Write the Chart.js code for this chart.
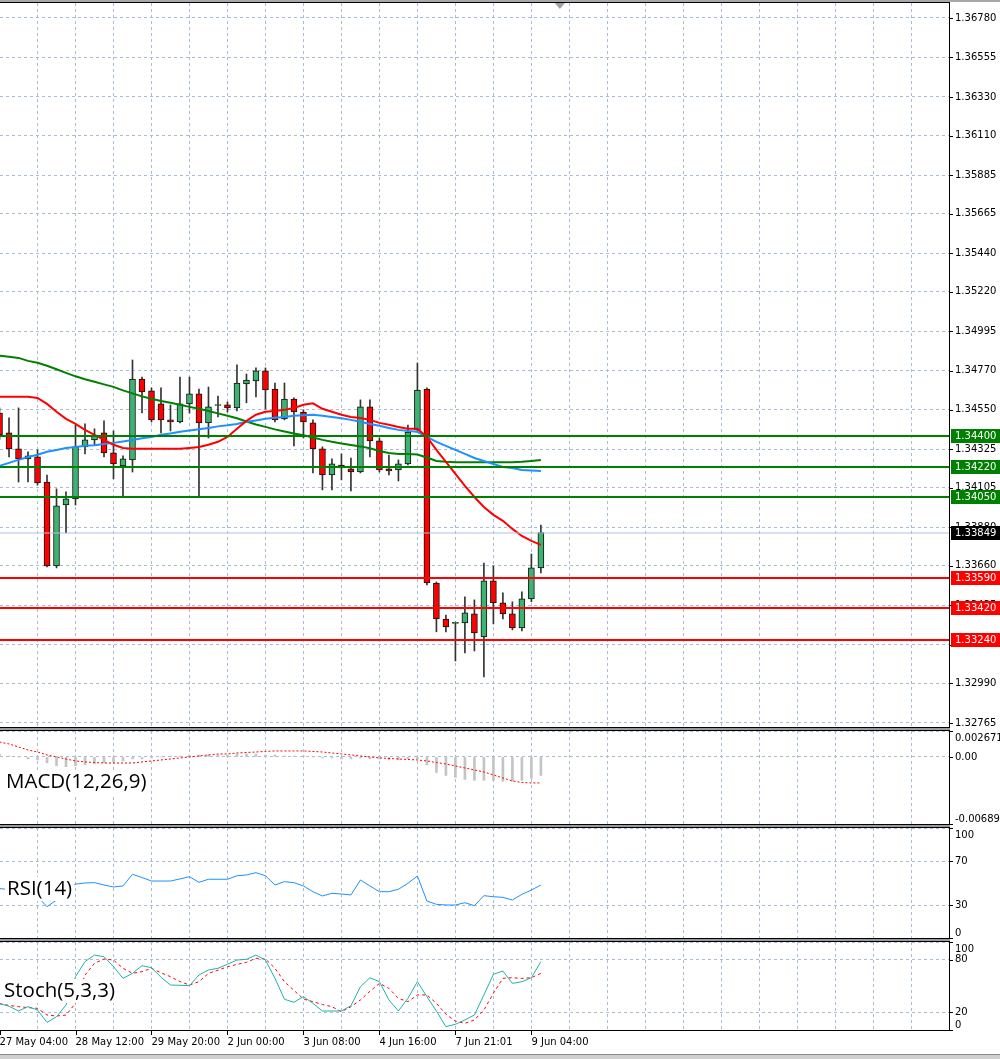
<!DOCTYPE html>
<html>
<head>
<meta charset="utf-8">
<title>H4 chart</title>
<script src="https://cdn.jsdelivr.net/npm/chart.js@4.4.1/dist/chart.umd.min.js"></script>
<style>
  html, body { margin: 0; padding: 0; background: #fff; }
  #wrap { position: relative; width: 1000px; height: 1059px; overflow: hidden; background: #fff; }
  #wrap canvas { position: absolute; left: 0; }
  .sep { position: absolute; left: 0; width: 950px; height: 2px; background: #9a9a9a; }
  #topbar { position: absolute; left: 0; top: 0; width: 1000px; height: 2px; background: #a8a8a8; }
  #bottombar { position: absolute; left: 0; top: 1054px; width: 1000px; height: 5px; background: #d0d0d0; border-top: 1px solid #8a8a8a; }
</style>
</head>
<body>
<div id="wrap">
  <div id="topbar"></div>
  <div class="sep" style="top:728px"></div>
  <div class="sep" style="top:825px"></div>
  <div class="sep" style="top:939px"></div>
  <div id="bottombar"></div>
  <canvas id="cMain" width="1000" height="730" style="top:0"></canvas>
  <canvas id="cMacd" width="1000" height="97" style="top:729px"></canvas>
  <canvas id="cRsi" width="1000" height="114" style="top:826px"></canvas>
  <canvas id="cStoch" width="1000" height="119" style="top:940px"></canvas>
</div>
<script>
// ---- candles (H4), oldest first ----
const opens  = [1.34530, 1.34417, 1.34326, 1.34269, 1.34280, 1.34137, 1.33659, 1.34006, 1.34041, 1.34337,
                1.34377, 1.34417, 1.34303, 1.34229, 1.34263, 1.34724, 1.34656, 1.34582, 1.34491, 1.34479,
                1.34582, 1.34639, 1.34474, 1.34573, 1.34576, 1.34559, 1.34696, 1.34713, 1.34770, 1.34667,
                1.34497, 1.34610, 1.34536, 1.34474, 1.34326, 1.34177, 1.34234, 1.34212, 1.34194, 1.34565,
                1.34371, 1.34212, 1.34206, 1.34240, 1.34434, 1.34667, 1.33562, 1.33357, 1.33332, 1.33335,
                1.33386, 1.33255, 1.33574, 1.33449, 1.33386, 1.33306, 1.33472, 1.33648];
const highs  = [1.34560, 1.34502, 1.34559, 1.34309, 1.34320, 1.34177, 1.34098, 1.34081, 1.34462, 1.34468,
                1.34440, 1.34485, 1.34428, 1.34286, 1.34832, 1.34735, 1.34673, 1.34673, 1.34576, 1.34735,
                1.34735, 1.34667, 1.34678, 1.34627, 1.34593, 1.34804, 1.34752, 1.34787, 1.34787, 1.34701,
                1.34701, 1.34616, 1.34548, 1.34491, 1.34337, 1.34269, 1.34297, 1.34274, 1.34605, 1.34605,
                1.34388, 1.34291, 1.34263, 1.34462, 1.34815, 1.34673, 1.33568, 1.33380, 1.33340, 1.33483,
                1.33466, 1.33676, 1.33659, 1.33506, 1.33455, 1.33512, 1.33727, 1.33892];
const lows   = [1.34380, 1.34280, 1.34137, 1.34137, 1.34120, 1.33653, 1.33648, 1.33847, 1.34006, 1.34297,
                1.34348, 1.34280, 1.34155, 1.34052, 1.34194, 1.34530, 1.34479, 1.34417, 1.34428, 1.34474,
                1.34530, 1.34052, 1.34388, 1.34508, 1.34536, 1.34542, 1.34588, 1.34622, 1.34553, 1.34479,
                1.34491, 1.34343, 1.34388, 1.34189, 1.34092, 1.34092, 1.34149, 1.34086, 1.34189, 1.34280,
                1.34194, 1.34177, 1.34143, 1.34234, 1.34428, 1.33551, 1.33284, 1.33284, 1.33118, 1.33164,
                1.33175, 1.33027, 1.33329, 1.33357, 1.33295, 1.33289, 1.33455, 1.33619];
const closes = [1.34405, 1.34326, 1.34269, 1.34286, 1.34132, 1.33659, 1.34001, 1.34041, 1.34337, 1.34377,
                1.34405, 1.34303, 1.34240, 1.34269, 1.34724, 1.34650, 1.34491, 1.34491, 1.34479, 1.34582,
                1.34639, 1.34474, 1.34565, 1.34576, 1.34559, 1.34701, 1.34718, 1.34770, 1.34661, 1.34491,
                1.34610, 1.34536, 1.34479, 1.34326, 1.34177, 1.34240, 1.34217, 1.34194, 1.34565, 1.34371,
                1.34206, 1.34200, 1.34240, 1.34422, 1.34661, 1.33562, 1.33357, 1.33312, 1.33335, 1.33392,
                1.33278, 1.33574, 1.33449, 1.33386, 1.33306, 1.33472, 1.33648, 1.33849];

// ---- moving averages ----
const maFast = [1.34622, 1.34622, 1.34622, 1.34622, 1.34616, 1.34582, 1.34537, 1.34497, 1.34468, 1.34434,
                1.34406, 1.34377, 1.34349, 1.34331, 1.34326, 1.34326, 1.34326, 1.34326, 1.34326, 1.34326,
                1.34331, 1.34337, 1.34349, 1.34366, 1.34394, 1.34440, 1.34485, 1.34520, 1.34537, 1.34542,
                1.34548, 1.34559, 1.34577, 1.34585, 1.34554, 1.34537, 1.34520, 1.34508, 1.34502, 1.34491,
                1.34474, 1.34463, 1.34451, 1.34440, 1.34440, 1.34394, 1.34320, 1.34252, 1.34183, 1.34115,
                1.34052, 1.33995, 1.33950, 1.33916, 1.33870, 1.33830, 1.33802, 1.33779];
const maMid  = [1.34229, 1.34246, 1.34263, 1.34280, 1.34292, 1.34309, 1.34320, 1.34331, 1.34337, 1.34343,
                1.34346, 1.34354, 1.34360, 1.34368, 1.34377, 1.34386, 1.34394, 1.34406, 1.34414, 1.34423,
                1.34431, 1.34437, 1.34445, 1.34454, 1.34460, 1.34468, 1.34480, 1.34488, 1.34497, 1.34503,
                1.34508, 1.34514, 1.34517, 1.34520, 1.34514, 1.34508, 1.34500, 1.34491, 1.34480, 1.34468,
                1.34457, 1.34445, 1.34434, 1.34428, 1.34423, 1.34394, 1.34366, 1.34343, 1.34320, 1.34297,
                1.34274, 1.34257, 1.34240, 1.34223, 1.34217, 1.34206, 1.34203, 1.34200];
const maSlow = [1.34856, 1.34850, 1.34844, 1.34827, 1.34816, 1.34799, 1.34779, 1.34759, 1.34739, 1.34722,
                1.34708, 1.34693, 1.34679, 1.34659, 1.34642, 1.34625, 1.34611, 1.34599, 1.34588, 1.34577,
                1.34565, 1.34554, 1.34542, 1.34528, 1.34514, 1.34500, 1.34482, 1.34465, 1.34451, 1.34437,
                1.34425, 1.34414, 1.34403, 1.34391, 1.34377, 1.34366, 1.34357, 1.34348, 1.34340, 1.34329,
                1.34314, 1.34303, 1.34297, 1.34297, 1.34294, 1.34277, 1.34257, 1.34252, 1.34249, 1.34249,
                1.34249, 1.34249, 1.34249, 1.34249, 1.34249, 1.34252, 1.34257, 1.34263];

// ---- horizontal levels ----
const resistanceLevels = [1.34400, 1.34220, 1.34050];
const supportLevels    = [1.33590, 1.33420, 1.33240];
const lastPrice = 1.33849;

// ---- indicators ----
const macdMain = [0.0003, 0.0001, 0.0000, -0.0002, -0.0003, -0.0006, -0.0009, -0.0010, -0.0009, -0.0008,
                  -0.0007, -0.0006, -0.0005, -0.0004, -0.0002, -0.0002, -0.0001, 0.0000, 0.0001, 0.0001,
                  0.0002, 0.0002, 0.0002, 0.0002, 0.0002, 0.0003, 0.0003, 0.0003, 0.0002, 0.0002,
                  0.0001, 0.0001, 0.0001, 0.0000, -0.0001, -0.0001, -0.0002, -0.0002, -0.0001, -0.0002,
                  -0.0002, -0.0003, -0.0003, -0.0002, -0.0002, -0.0008, -0.0016, -0.0019, -0.0021, -0.0023,
                  -0.0024, -0.0024, -0.0024, -0.0025, -0.0025, -0.0024, -0.0022, -0.0019];
const macdSignal = [0.00154, 0.00134, 0.00103, 0.00072, 0.00051, 0.00021, 0.00000, -0.00021, -0.00041, -0.00051,
                    -0.00057, -0.00062, -0.00062, -0.00062, -0.00062, -0.00051, -0.00041, -0.00031, -0.00021, -0.00010,
                    0.00000, 0.00010, 0.00021, 0.00031, 0.00031, 0.00041, 0.00046, 0.00051, 0.00057, 0.00062,
                    0.00062, 0.00062, 0.00062, 0.00057, 0.00051, 0.00041, 0.00031, 0.00021, 0.00010, 0.00000,
                    -0.00010, -0.00015, -0.00021, -0.00026, -0.00031, -0.00041, -0.00057, -0.00072, -0.00093, -0.00113,
                    -0.00134, -0.00154, -0.00185, -0.00216, -0.00247, -0.00262, -0.00267, -0.00267];
const rsi = [45, 44, 43, 40, 37.6, 28.5, 34.5, 46, 49, 50,
             50.3, 48.2, 46.4, 47.3, 57.9, 55, 51.8, 51.8, 51.8, 53.7,
             55.7, 50.6, 53.4, 53.4, 53.4, 56.6, 57.3, 59.4, 56.6, 48.2,
             51.2, 50.3, 47.3, 42.1, 38.2, 40.6, 40, 39.1, 52.7, 47.3,
             42.1, 42.1, 44.3, 49.7, 56.4, 33.6, 30.6, 30, 30, 32.1,
             29.4, 38.5, 37.5, 37, 34.5, 39.7, 43.6, 48.2];
const stochK = [30, 27, 21.6, 26.5, 22.7, 8.7, 15.1, 28.4, 60.6, 77.7,
                85.2, 83.3, 72, 58.7, 64.4, 73.1, 70.8, 60, 51.1, 50.8,
                50.4, 62.5, 68.2, 70.1, 74.7, 79.5, 80.3, 85.2, 79.5, 58.7,
                34.9, 31.5, 37.9, 30.3, 21.6, 21.6, 21.6, 27.6, 49.2, 59.4,
                54.9, 34.1, 21.6, 36, 54.9, 37.9, 21.6, 3.8, 6.5, 11.4,
                17, 39.8, 63.3, 67, 53, 54.9, 59.4, 77.6];
const stochD = [30, 28, 26.5, 25.5, 24.6, 17, 15.9, 17, 30.3, 62.5,
                75.8, 80.7, 79.5, 70.1, 64.4, 66.3, 70.1, 65, 60.6, 55,
                51.1, 54.9, 64.4, 68, 71.9, 74.5, 76.9, 81.5, 80.7, 70.1,
                54.9, 45, 35.2, 32.2, 29, 26.5, 20.8, 26.5, 34.1, 44,
                53, 47.3, 36, 32.2, 39.8, 39.8, 30.3, 18, 10, 7.6,
                11.4, 22.7, 41.7, 58.7, 59.4, 58.7, 59.4, 64.4];

// ---- axes ----
const priceTicks = [1.36780, 1.36555, 1.36330, 1.36110, 1.35885, 1.35665, 1.35440, 1.35220, 1.34995, 1.34770,
                    1.34550, 1.34325, 1.34105, 1.33880, 1.33660, 1.33435, 1.33210, 1.32990, 1.32765];
const priceMin = 1.32742, priceMax = 1.36865;
const macdMax = 0.002671, macdMin = -0.006894;
const rsiTicks = [100, 70, 30, 0];
const stochTicks = [100, 80, 20, 0];
const timeLabelBars = [0, 8, 16, 24, 32, 40, 48, 56];
const timeLabels = ['27 May 04:00', '28 May 12:00', '29 May 20:00', '2 Jun 00:00',
                    '3 Jun 08:00', '4 Jun 16:00', '7 Jun 21:01', '9 Jun 04:00'];

const X_MIN = 0.05, X_MAX = 99.97;   // bar index range visible in the window
const SHIFT_BAR = 59;                // chart shift marker
const GRID = '#a9bcd6';
const AXIS_FONT = { family: 'DejaVu Sans', size: 10 };
const BULL = '#3cb371', BEAR = '#ff0000';

const idx = opens.map((_, i) => i);
const gridBars = [];
for (let b = 0; b <= 96; b += 4) gridBars.push(b);
const pts = arr => idx.map(i => ({ x: i, y: arr[i] }));

function xAxis(withLabels) {
  return {
    type: 'linear', min: X_MIN, max: X_MAX, offset: false,
    afterBuildTicks: s => { s.ticks = gridBars.map(v => ({ value: v })); },
    afterFit: s => { s.height = withLabels ? 25 : 0; s.paddingLeft = 0; s.paddingRight = 0; },
    grid: { color: GRID, drawTicks: false, offset: false },
    border: { display: false, dash: [3, 3] },
    ticks: withLabels ? {
      autoSkip: false, maxRotation: 0, align: 'start', padding: 6, color: '#000', font: AXIS_FONT,
      callback: v => { const j = timeLabelBars.indexOf(v); return j >= 0 ? timeLabels[j] : ''; }
    } : { display: false }
  };
}

function yAxis(min, max, tickVals, fmt) {
  return {
    position: 'right', min, max,
    afterBuildTicks: s => { s.ticks = tickVals.map(v => ({ value: v })); },
    afterFit: s => { s.width = 51; s.paddingTop = 0; s.paddingBottom = 0; },
    grid: { color: GRID, drawTicks: false },
    border: { display: false, dash: [3, 3] },
    ticks: { autoSkip: false, padding: 6, color: '#000', font: AXIS_FONT, callback: fmt }
  };
}

// frame round each pane plus small tick marks on the price scale
const frame = {
  id: 'frame',
  afterDraw(chart) {
    const { ctx, chartArea: a } = chart;
    const y = chart.scales.y;
    ctx.save();
    ctx.strokeStyle = '#000';
    ctx.lineWidth = 1;
    ctx.beginPath();
    ctx.moveTo(0, a.top - 0.5); ctx.lineTo(a.right + 1, a.top - 0.5);
    ctx.moveTo(0, a.bottom + 0.5); ctx.lineTo(a.right + 1, a.bottom + 0.5);
    ctx.moveTo(a.right + 0.5, a.top - 1); ctx.lineTo(a.right + 0.5, a.bottom + 1);
    y.ticks.forEach(t => {
      const py = Math.round(y.getPixelForValue(t.value)) + 0.5;
      ctx.moveTo(a.right, py); ctx.lineTo(a.right + 4, py);
    });
    ctx.stroke();
    ctx.restore();
  }
};

// horizontal levels and the price boxes on the scale
const levels = {
  id: 'levels',
  afterDatasetsDraw(chart) {
    const { ctx, chartArea: a } = chart;
    const y = chart.scales.y;
    ctx.save();
    ctx.beginPath();
    ctx.rect(a.left, a.top, a.right - a.left, a.bottom - a.top);
    ctx.clip();
    const hline = (v, color, w) => {
      const py = Math.round(y.getPixelForValue(v));
      ctx.strokeStyle = color; ctx.lineWidth = w;
      ctx.beginPath(); ctx.moveTo(a.left, py); ctx.lineTo(a.right, py); ctx.stroke();
    };
    hline(lastPrice, '#b0c4de', 1);
    resistanceLevels.forEach(v => hline(v, '#008000', 2));
    supportLevels.forEach(v => hline(v, '#ff0000', 2));
    // chart shift marker
    const cx = chart.scales.x.getPixelForValue(SHIFT_BAR);
    ctx.fillStyle = '#a0a0a0';
    ctx.beginPath(); ctx.moveTo(cx - 5, a.top); ctx.lineTo(cx + 5, a.top); ctx.lineTo(cx, a.top + 6); ctx.closePath(); ctx.fill();
    ctx.restore();
  },
  afterDraw(chart) {
    const { ctx, chartArea: a } = chart;
    const y = chart.scales.y;
    const box = (v, bg) => {
      const py = Math.round(y.getPixelForValue(v));
      ctx.fillStyle = bg;
      ctx.fillRect(a.right + 2, py - 7, chart.width - a.right - 2, 14);
      ctx.fillStyle = '#fff';
      ctx.font = '10px "DejaVu Sans"';
      ctx.textBaseline = 'middle';
      ctx.textAlign = 'left';
      ctx.fillText(v.toFixed(5), a.right + 6, py + 0.5);
    };
    ctx.save();
    resistanceLevels.forEach(v => box(v, '#008000'));
    supportLevels.forEach(v => box(v, '#ff0000'));
    box(lastPrice, '#000000');
    ctx.restore();
  }
};

// indicator name and the scale's edge values
const paneText = {
  id: 'paneText',
  afterDraw(chart, args, o) {
    const { ctx, chartArea: a } = chart;
    ctx.save();
    ctx.font = '20.5px "Open Sans"';
    ctx.textBaseline = 'middle';
    ctx.textAlign = 'left';
    const w = ctx.measureText(o.title).width;
    const ty = a.top + o.titleY;
    ctx.fillStyle = '#fff';
    ctx.fillRect(o.titleX - 2, ty - 12, w + 4, 24);
    ctx.fillStyle = '#000';
    ctx.fillText(o.title, o.titleX, ty);
    ctx.font = '10px "DejaVu Sans"';
    ctx.textBaseline = 'top';
    ctx.fillText(o.topLabel, a.right + 6, a.top + 2);
    ctx.textBaseline = 'bottom';
    ctx.fillText(o.bottomLabel, a.right + 6, a.bottom);
    if (o.timeMarks) {
      const x = chart.scales.x;
      ctx.strokeStyle = '#000';
      ctx.beginPath();
      timeLabelBars.forEach(b => {
        const px = Math.round(x.getPixelForValue(b)) + 0.5;
        ctx.moveTo(px, a.bottom + 1); ctx.lineTo(px, a.bottom + 5);
      });
      ctx.stroke();
    }
    ctx.restore();
  }
};

const common = {
  responsive: false, animation: false, devicePixelRatio: 1, events: []
};

new Chart(document.getElementById('cMain'), {
  type: 'line',
  data: {
    datasets: [
      { type: 'line', label: 'MA fast', data: pts(maFast), borderColor: '#ff0000', borderWidth: 2, pointRadius: 0, tension: 0, order: 0 },
      { type: 'line', label: 'MA mid', data: pts(maMid), borderColor: '#1e90ff', borderWidth: 2, pointRadius: 0, tension: 0, order: 0 },
      { type: 'line', label: 'MA slow', data: pts(maSlow), borderColor: '#008000', borderWidth: 2, pointRadius: 0, tension: 0, order: 0 },
      { type: 'bar', label: 'body', data: idx.map(i => ({ x: i, y: [opens[i], closes[i]] })),
        backgroundColor: c => (closes[c.dataIndex] >= opens[c.dataIndex] ? BULL : BEAR),
        borderColor: '#111', borderWidth: 1, borderSkipped: false, grouped: false,
        barThickness: 6, maxBarThickness: 6, minBarLength: 1, order: 1 },
      { type: 'bar', label: 'wick', data: idx.map(i => ({ x: i, y: [lows[i], highs[i]] })),
        backgroundColor: '#333', borderWidth: 0, grouped: false,
        barThickness: 1, maxBarThickness: 1, order: 2 }
    ]
  },
  options: {
    ...common,
    layout: { padding: { top: 3, bottom: 3, left: 0, right: 0 } },
    plugins: { legend: { display: false }, tooltip: { enabled: false } },
    scales: { x: xAxis(false), y: yAxis(priceMin, priceMax, priceTicks, v => v.toFixed(5)) }
  },
  plugins: [frame, levels]
});

function pane(id, datasets, y, padding, text, withTime) {
  return new Chart(document.getElementById(id), {
    type: 'line',
    data: { datasets },
    options: {
      ...common,
      layout: { padding },
      plugins: { legend: { display: false }, tooltip: { enabled: false }, paneText: text },
      scales: { x: xAxis(withTime), y }
    },
    plugins: [frame, paneText]
  });
}

pane('cMacd', [
  { type: 'line', label: 'Signal', data: pts(macdSignal), borderColor: '#ff0000', borderWidth: 1, borderDash: [2, 2], pointRadius: 0, tension: 0, order: 0 },
  { type: 'bar', label: 'MACD', data: pts(macdMain), backgroundColor: '#c4c4c4', grouped: false, barThickness: 2, maxBarThickness: 2, order: 1 }
], yAxis(macdMin, macdMax, [macdMax, 0, macdMin], v => (v === 0 ? '0.00' : '')),
   { top: 2, bottom: 2, left: 0, right: 0 },
   { title: 'MACD(12,26,9)', titleX: 6, titleY: 51, topLabel: '0.002671', bottomLabel: '-0.006894' }, false);

pane('cRsi', [
  { type: 'line', label: 'RSI', data: pts(rsi), borderColor: '#1e90ff', borderWidth: 1, pointRadius: 0, tension: 0 }
], yAxis(0, 100, rsiTicks, v => (v === 70 || v === 30 ? String(v) : '')),
   { top: 2, bottom: 2, left: 0, right: 0 },
   { title: 'RSI(14)', titleX: 7, titleY: 61, topLabel: '100', bottomLabel: '0' }, false);

pane('cStoch', [
  { type: 'line', label: '%K', data: pts(stochK), borderColor: '#20b2aa', borderWidth: 1, pointRadius: 0, tension: 0, order: 0 },
  { type: 'line', label: '%D', data: pts(stochD), borderColor: '#ff0000', borderWidth: 1, borderDash: [3, 3], pointRadius: 0, tension: 0, order: 1 }
], yAxis(0, 100, stochTicks, v => (v === 80 || v === 20 ? String(v) : '')),
   { top: 2, bottom: 4, left: 0, right: 0 },
   { title: 'Stoch(5,3,3)', titleX: 4, titleY: 49, topLabel: '100', bottomLabel: '0', timeMarks: true }, true);
</script>
</body>
</html>
